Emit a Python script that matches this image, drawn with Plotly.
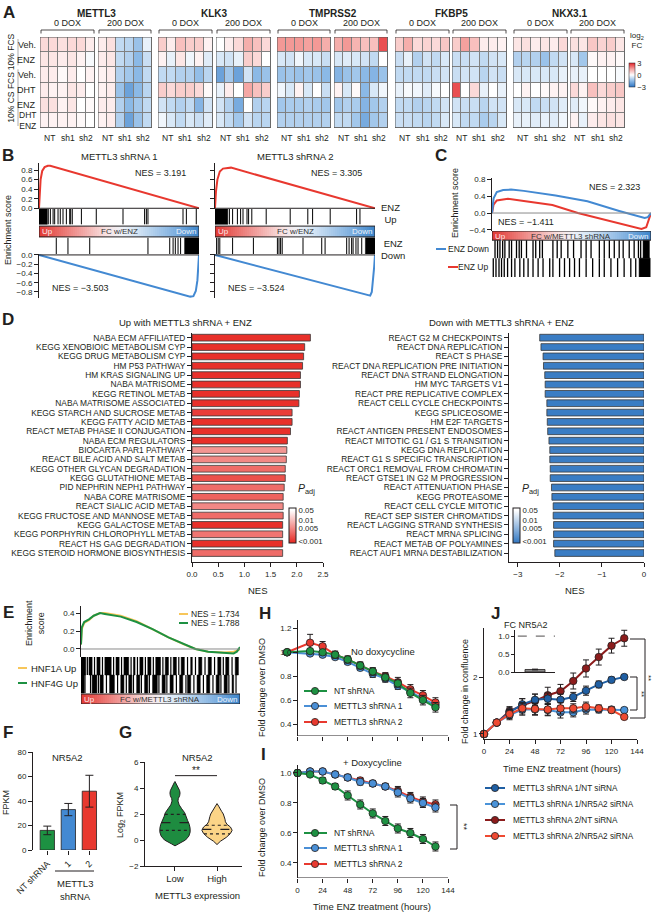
import numpy as np
import plotly.graph_objects as go

W, H = 653, 914
FONT = "Liberation Sans, Arial, Helvetica, sans-serif"
INK = "#231f20"
RED = "#e8382f"
BLUE = "#4389d2"
GREEN = "#1d9142"
YELLOW = "#f7c65a"

# ======================= DATA =======================
# ---- A: log2 FC heatmaps; rows Veh, ENZ | Veh, DHT, ENZ, DHT+ENZ ; cols NT NT sh1 sh1 sh2 sh2
A_genes = ["METTL3", "KLK3", "TMPRSS2", "FKBP5", "NKX3.1"]
A_dox = ["0 DOX", "200 DOX"]
A_rows = ["Veh.", "ENZ", "Veh.", "DHT", "ENZ", "DHT<br>ENZ"]
A_cols = ["NT", "sh1", "sh2"]
A_METTL3_0 = [[0.6, 0.6, 0.5, 0.6, 0.6, 0.3], [0.4, 0.4, 0.3, 0.4, 0.2, -0.1], [0.3, 0.3, 0.1, 0.3, 0.0, 0.2],
              [0.3, 0.2, 0.2, 0.4, 0.3, 0.0], [0.5, 0.5, 0.2, 0.4, 0.0, 0.1], [0.2, 0.2, 0.2, 0.2, 0.1, 0.0]]
A_METTL3_200 = [[0.3, 0.5, -0.8, -0.9, -1.3, -0.3], [0.3, 0.4, -0.8, -1.0, -1.5, -0.7], [0.2, 0.3, -1.0, -1.2, -1.5, -0.8],
                [0.2, 0.3, -1.3, -2.0, -1.5, -0.9], [0.3, 0.3, -1.0, -1.5, -1.2, -0.8], [0.2, 0.3, -1.0, -2.0, -1.3, -0.8]]
A_KLK3_0 = [[0.8, 0.3, 1.0, 0.8, 0.8, 0.2], [0.2, -0.3, 0.4, -0.2, 0.2, -0.4], [-0.8, -0.8, -1.0, -1.0, -1.4, -0.9],
            [0.8, 0.6, 0.8, 0.8, 0.6, 0.1], [-0.6, -0.8, -1.0, -0.8, -1.6, -0.6], [-0.2, -0.5, -0.8, -0.5, -0.7, -0.4]]
A_KLK3_200 = [[0.0, 0.3, 0.6, 1.3, 1.0, 0.6], [-0.5, -0.6, -0.3, 0.8, 0.6, 0.0], [-2.0, -1.2, -2.0, -0.6, -1.5, -1.3],
              [-0.3, 0.3, 0.0, 1.4, 1.0, 0.8], [-0.6, -1.0, -1.8, 0.0, -1.0, -0.9], [-0.5, -0.8, -1.2, -0.6, -0.9, -0.9]]
A_TMPRSS2_0 = [[1.6, 1.6, 1.6, 1.5, 1.6, 1.3], [-0.5, -0.6, -0.2, -0.5, -0.5, -0.7], [-1.3, -1.2, -1.3, -1.2, -1.3, -1.5],
               [-0.2, -0.5, 0.2, -0.5, 0.0, -0.7], [-1.2, -1.1, -1.1, -1.0, -1.1, -1.2], [-1.0, -1.0, -1.0, -1.0, -1.0, -1.0]]
A_TMPRSS2_200 = [[1.3, 1.6, 1.2, 1.0, 1.0, 2.5], [-0.5, -0.4, -0.5, -0.6, -0.8, 0.0], [-1.6, -1.3, -1.2, -1.5, -1.6, -1.3],
                 [0.2, -0.5, 0.1, -1.5, -0.5, -0.2], [-1.2, -1.0, -1.1, -1.6, -1.2, -1.0], [-0.8, -0.8, -1.2, -1.8, -1.2, -1.0]]
A_FKBP5_0 = [[0.8, 1.3, 0.6, 0.7, 0.6, 0.9], [-0.7, -0.3, -1.0, -0.6, -0.8, -0.5], [-0.8, -0.8, -0.8, -0.8, -0.7, -0.6],
             [-0.3, -0.1, -0.2, -0.4, -0.1, 0.0], [-0.8, -0.8, -1.0, -0.9, -0.8, -0.6], [-0.7, -0.7, -0.8, -0.9, -0.8, -0.5]]
A_FKBP5_200 = [[0.8, 1.5, 1.0, 0.3, 0.3, 0.2], [-0.7, -0.7, -0.6, -0.8, -0.6, -0.5], [-0.7, -0.6, -0.6, -0.9, -0.6, -0.7],
               [2.5, 0.0, 0.6, -0.3, 0.0, -0.3], [-0.6, -0.7, -0.7, -0.9, -0.6, -0.6], [-0.5, -0.8, -0.8, -1.1, -0.9, -0.5]]
A_NKX31_0 = [[0.4, 0.5, 0.3, 0.4, 0.3, 0.6], [-1.0, -0.9, -1.0, -1.3, -0.8, -0.6], [-0.5, -0.5, -0.5, -0.5, -0.5, -0.3],
             [0.0, 0.2, 0.0, 0.1, 0.2, 0.2], [-0.5, -0.5, -0.8, -0.7, -0.6, -0.4], [-0.3, -0.3, -0.4, -0.3, -0.4, -0.2]]
A_NKX31_200 = [[0.5, 0.4, 0.9, 0.7, 0.8, 0.4], [-0.5, -1.2, 0.1, 0.2, 0.2, 0.1], [-0.3, -0.3, 0.0, 0.0, 0.0, -0.1],
               [0.6, 0.2, 1.0, 0.6, 0.8, 0.9], [-0.4, -0.2, 0.1, 0.2, 0.3, 0.4], [0.2, -0.3, 0.3, 0.4, 0.5, 0.4]]

# ---- B: GSEA running enrichment scores (rank fraction, ES) and hit positions
B1_up_x = [0, 0.004, 0.01, 0.02, 0.035, 0.055, 0.07, 1.0]
B1_up_y = [0, 0.30, 0.60, 0.78, 0.86, 0.89, 0.89, 0.0]
B1_dn_x = [0, 0.5, 0.92, 0.945, 0.965, 0.98, 0.99, 0.997, 1.0]
B1_dn_y = [0, -0.47, -0.87, -0.90, -0.89, -0.78, -0.55, -0.25, 0]
B2_up_x = [0, 0.006, 0.015, 0.03, 0.05, 0.08, 0.10, 1.0]
B2_up_y = [0, 0.35, 0.60, 0.77, 0.83, 0.85, 0.85, 0.0]
B2_dn_x = [0, 0.5, 0.95, 0.97, 0.98, 0.988, 0.995, 1.0]
B2_dn_y = [0, -0.45, -0.85, -0.88, -0.80, -0.55, -0.25, 0]
B1_up_hits = [0.058, 0.071, 0.088, 0.098, 0.119, 0.133, 0.15, 0.171, 0.192, 0.198, 0.208, 0.265, 0.358, 0.525,
              0.66, 0.671, 0.681, 0.9, 0.921, 0.983]
B1_up_blocks = [[0.0, 0.052]]
B1_dn_hits = [0.108, 0.181, 0.317, 0.681, 0.817, 0.838, 0.852, 0.869, 0.885]
B1_dn_blocks = [[0.91, 1.0]]
B2_up_hits = [0.09, 0.11, 0.14, 0.16, 0.175, 0.2, 0.21, 0.23, 0.32, 0.47, 0.58, 0.61, 0.72, 0.885, 0.906]
B2_up_blocks = [[0.0, 0.08]]
B2_dn_hits = [0.01, 0.02, 0.03, 0.11, 0.24, 0.39, 0.40, 0.41, 0.42, 0.55, 0.667, 0.688, 0.823, 0.838, 0.854,
              0.863, 0.881, 0.894, 0.917]
B2_dn_blocks = [[0.94, 1.0]]
B_nes = ["3.191", "−3.503", "3.305", "−3.524"]

# ---- C
C_dn_x = [0, 0.01, 0.03, 0.07, 0.12, 0.2, 0.4, 0.6, 0.8, 0.9, 0.96, 0.98, 1.0]
C_dn_y = [0, 0.35, 0.50, 0.55, 0.56, 0.53, 0.42, 0.28, 0.05, -0.06, -0.12, -0.10, 0.0]
C_up_x = [0, 0.01, 0.03, 0.07, 0.10, 0.2, 0.38, 0.54, 0.7, 0.8, 0.9, 0.94, 0.97, 1.0]
C_up_y = [0, 0.20, 0.30, 0.33, 0.34, 0.29, 0.19, 0.0, -0.15, -0.24, -0.35, -0.38, -0.34, 0.0]
C_dn_hits = [0.019, 0.035, 0.05, 0.067, 0.081, 0.108, 0.123, 0.154, 0.171, 0.185, 0.217, 0.258, 0.275, 0.3, 0.317,
             0.383, 0.41, 0.435, 0.477, 0.513, 0.56, 0.592, 0.623, 0.675, 0.706, 0.738, 0.769, 0.8, 0.825, 0.863,
             0.894, 0.921, 0.935]
C_dn_blocks = [[0.95, 0.99]]
C_up_hits = [0.008, 0.025, 0.044, 0.06, 0.077, 0.098, 0.123, 0.144, 0.175, 0.2, 0.227, 0.258, 0.29, 0.321, 0.363,
             0.383, 0.425, 0.456, 0.488, 0.519, 0.55, 0.592, 0.633, 0.675, 0.706, 0.748, 0.79, 0.831, 0.873, 0.904]
C_up_blocks = [[0.925, 0.995]]
C_nes = ["2.323", "−1.411"]

# ---- D
D_up_terms = ["NABA ECM AFFILIATED", "KEGG XENOBIOIC METABOLISM CYP", "KEGG DRUG METABOLISM CYP", "HM P53 PATHWAY",
              "HM KRAS SIGNALING UP", "NABA MATRISOME", "KEGG RETINOL METAB", "NABA MATRISOME ASSOCIATED",
              "KEGG STARCH AND SUCROSE METAB", "KEGG FATTY ACID METAB", "REACT METAB PHASE II CONJUGATION",
              "NABA ECM REGULATORS", "BIOCARTA PAR1 PATHWAY", "REACT BILE ACID AND SALT METAB",
              "KEGG OTHER GLYCAN DEGRADATION", "KEGG GLUTATHIONE METAB", "PID NEPHRIN NEPH1 PATHWAY",
              "NABA CORE MATRISOME", "REACT SIALIC ACID METAB", "KEGG FRUCTOSE AND MANNOSE METAB",
              "KEGG GALACTOSE METAB", "KEGG PORPHYRIN CHLOROPHYLL METAB", "REACT HS GAG DEGRADATION",
              "KEGG STEROID HORMONE BIOSYNTHESIS"]
D_up_nes = [2.26, 2.15, 2.13, 2.11, 2.07, 2.07, 2.05, 2.04, 1.91, 1.91, 1.88, 1.82, 1.81, 1.80, 1.78, 1.78, 1.76,
            1.74, 1.74, 1.74, 1.73, 1.73, 1.73, 1.73]
D_up_padj = [0.0005, 0.0005, 0.0005, 0.0005, 0.0005, 0.0005, 0.0005, 0.0005, 0.0013, 0.0005, 0.0008, 0.0005,
             0.006, 0.005, 0.003, 0.0018, 0.003, 0.0025, 0.005, 0.003, 0.0005, 0.0035, 0.0005, 0.003]
D_dn_terms = ["REACT G2 M CHECKPOINTS", "REACT DNA REPLICATION", "REACT S PHASE", "REACT DNA REPLICATION PRE INITIATION",
              "REACT DNA STRAND ELONGATION", "HM MYC TARGETS V1", "REACT PRE REPLICATIVE COMPLEX",
              "REACT CELL CYCLE CHECKPOINTS", "KEGG SPLICEOSOME", "HM E2F TARGETS", "REACT ANTIGEN PRESENT ENDOSOMES",
              "REACT MITOTIC G1 / G1 S TRANSITION", "KEGG DNA REPLICATION", "REACT G1 S SPECIFIC TRANSCRIPTION",
              "REACT ORC1 REMOVAL FROM CHROMATIN", "REACT GTSE1 IN G2 M PROGRESSION", "REACT ATTENUATION PHASE",
              "KEGG PROTEASOME", "REACT CELL CYCLE MITOTIC", "REACT SEP SISTER CHROMATIDS",
              "REACT LAGGING STRAND SYNTHESIS", "REACT MRNA SPLICING", "REACT METAB OF POLYAMINES",
              "REACT AUF1 MRNA DESTABILIZATION"]
D_dn_nes = [-2.48, -2.45, -2.40, -2.39, -2.36, -2.35, -2.35, -2.31, -2.31, -2.30, -2.29, -2.26, -2.24, -2.24,
            -2.23, -2.23, -2.20, -2.19, -2.16, -2.16, -2.15, -2.15, -2.15, -2.12]
D_dn_padj = [0.0005] * 24
D_padj_ticks = [0.05, 0.01, 0.005, 0.001]
D_padj_labels = ["0.05", "0.01", "0.005", "&lt;0.001"]

# ---- E
E_x = [0, 0.005, 0.02, 0.05, 0.08, 0.12, 0.15, 0.25, 0.35, 0.45, 0.55, 0.65, 0.72, 0.8, 0.9, 0.96, 0.98, 1.0]
E_hnf1a_y = [0.05, 0.22, 0.29, 0.32, 0.37, 0.40, 0.40, 0.37, 0.31, 0.22, 0.13, 0.05, 0.0, -0.03, -0.04, -0.03, -0.02, 0.0]
E_hnf4g_y = [0.05, 0.24, 0.30, 0.33, 0.37, 0.40, 0.39, 0.36, 0.30, 0.22, 0.13, 0.05, 0.0, -0.03, -0.04, -0.05, -0.03, 0.02]
E_hnf1a_hits = [0.04, 0.085, 0.135, 0.205, 0.255, 0.315, 0.355, 0.405, 0.455, 0.515, 0.565, 0.615, 0.67, 0.72,
                0.78, 0.84, 0.895, 0.95]
E_hnf1a_blocks = [[0.0, 0.03], [0.05, 0.07], [0.1, 0.12], [0.15, 0.19], [0.22, 0.24], [0.27, 0.3], [0.33, 0.34],
                  [0.37, 0.39], [0.42, 0.44], [0.47, 0.5], [0.53, 0.55], [0.58, 0.6], [0.63, 0.65], [0.69, 0.7],
                  [0.74, 0.76], [0.8, 0.82], [0.86, 0.88], [0.91, 0.93], [0.97, 0.99]]
E_hnf4g_hits = [0.025, 0.06, 0.11, 0.16, 0.23, 0.285, 0.33, 0.38, 0.43, 0.49, 0.54, 0.6, 0.66, 0.71, 0.77, 0.83,
                0.88, 0.93, 0.975]
E_hnf4g_blocks = [[0.0, 0.02], [0.07, 0.1], [0.12, 0.14], [0.18, 0.21], [0.25, 0.27], [0.3, 0.32], [0.35, 0.37],
                  [0.4, 0.42], [0.45, 0.48], [0.51, 0.53], [0.56, 0.58], [0.62, 0.64], [0.67, 0.69], [0.73, 0.75],
                  [0.79, 0.81], [0.85, 0.87], [0.9, 0.92], [0.95, 0.96]]
E_nes = ["1.734", "1.788"]

# ---- F
F_groups = ["NT shRNA", "1", "2"]
F_fpkm = [16, 33, 48]
F_err = [3.5, 5, 13]

# ---- G violin outlines (level, half-width) and quartiles
G_low_levels = [-0.45, -0.3, 0.0, 0.3, 0.6, 0.9, 1.2, 1.5, 1.8, 2.1, 2.4, 2.7, 3.0, 3.2, 3.4, 3.6, 3.8, 4.0, 4.2, 4.4, 4.5]
G_low_width = [0.0, 0.08, 0.25, 0.33, 0.36, 0.36, 0.34, 0.30, 0.26, 0.23, 0.16, 0.10, 0.07, 0.08, 0.11, 0.12, 0.11,
               0.08, 0.05, 0.02, 0.0]
G_high_levels = [-0.35, -0.1, 0.2, 0.5, 0.75, 1.0, 1.2, 1.4, 1.6, 1.8, 2.0, 2.2, 2.4, 2.6, 2.8]
G_high_width = [0.0, 0.08, 0.22, 0.32, 0.36, 0.32, 0.24, 0.20, 0.19, 0.17, 0.15, 0.11, 0.08, 0.04, 0.0]
G_low_quart = [0.74, 1.34, 1.97]
G_high_quart = [0.47, 0.82, 1.13]
G_cats = ["Low", "High"]

# ---- H / I  (hours, fold change over DMSO)
HI_hours = [0, 12, 24, 36, 48, 60, 72, 84, 96, 108, 120, 132]
H_hours = [-10, 12, 24, 36, 48, 60, 72, 84, 96, 108, 120, 132]
H_nt = [1.00, 1.01, 1.00, 0.98, 0.94, 0.89, 0.84, 0.79, 0.74, 0.66, 0.60, 0.54]
H_sh1 = [1.00, 0.99, 0.98, 0.96, 0.92, 0.87, 0.82, 0.78, 0.72, 0.67, 0.61, 0.56]
H_sh2 = [1.00, 1.08, 1.05, 0.98, 0.94, 0.89, 0.84, 0.80, 0.75, 0.69, 0.64, 0.58]
H_nt_err = [0, 0.02, 0.02, 0.02, 0.02, 0.02, 0.03, 0.03, 0.03, 0.04, 0.04, 0.04]
H_sh1_err = [0, 0.01, 0.01, 0.02, 0.02, 0.02, 0.03, 0.03, 0.03, 0.03, 0.03, 0.03]
H_sh2_err = [0, 0.07, 0.04, 0.03, 0.03, 0.03, 0.03, 0.03, 0.04, 0.04, 0.04, 0.04]
I_nt = [1.00, 0.99, 0.95, 0.91, 0.85, 0.79, 0.73, 0.68, 0.63, 0.60, 0.56, 0.51]
I_sh1 = [1.00, 1.01, 1.01, 0.99, 0.97, 0.94, 0.93, 0.91, 0.87, 0.83, 0.80, 0.77]
I_sh2 = [1.00, 1.01, 1.01, 0.99, 0.97, 0.95, 0.93, 0.91, 0.88, 0.84, 0.81, 0.79]
I_nt_err = [0, 0.01, 0.02, 0.02, 0.03, 0.03, 0.03, 0.03, 0.03, 0.03, 0.03, 0.03]
I_sh1_err = [0, 0.01, 0.01, 0.02, 0.02, 0.02, 0.02, 0.02, 0.03, 0.03, 0.03, 0.03]
I_sh2_err = [0, 0.01, 0.01, 0.02, 0.02, 0.02, 0.02, 0.02, 0.03, 0.03, 0.03, 0.03]
HI_names = ["NT shRNA", "METTL3 shRNA 1", "METTL3 shRNA 2"]

# ---- J
J_hours = [0, 12, 24, 36, 48, 60, 72, 84, 96, 108, 120, 132]
J_sh1_nt = [1.0, 1.2, 1.38, 1.52, 1.60, 1.62, 1.60, 1.65, 1.76, 1.87, 1.95, 2.00]
J_sh1_si = [1.0, 1.2, 1.33, 1.43, 1.43, 1.42, 1.38, 1.38, 1.43, 1.43, 1.43, 1.42]
J_sh2_nt = [1.0, 1.2, 1.40, 1.50, 1.58, 1.68, 1.75, 1.93, 2.15, 2.35, 2.55, 2.68]
J_sh2_si = [1.0, 1.2, 1.35, 1.45, 1.44, 1.43, 1.45, 1.45, 1.48, 1.45, 1.42, 1.30]
J_sh1_nt_err = [0, 0.04, 0.08, 0.1, 0.1, 0.1, 0.1, 0.08, 0.08, 0.06, 0.05, 0.04]
J_sh1_si_err = [0, 0.04, 0.08, 0.1, 0.1, 0.1, 0.1, 0.08, 0.08, 0.06, 0.05, 0.04]
J_sh2_nt_err = [0, 0.04, 0.08, 0.12, 0.12, 0.14, 0.12, 0.14, 0.15, 0.14, 0.13, 0.14]
J_sh2_si_err = [0, 0.04, 0.08, 0.1, 0.1, 0.1, 0.1, 0.08, 0.08, 0.06, 0.05, 0.04]
J_names = ["METTL3 shRNA 1/NT siRNA", "METTL3 shRNA 1/NR5A2 siRNA", "METTL3 shRNA 2/NT siRNA",
           "METTL3 shRNA 2/NR5A2 siRNA"]
J_colors = ["#1f5fa3", "#4a93d9", "#8c1c1c", "#ef4a32"]
J_inset_fc = [0.07]
J_inset_err = [0.01]

# ======================= HELPERS =======================
traces, annotations, shapes = [], [], []
layout = dict(width=W, height=H, margin=dict(l=0, r=0, t=0, b=0, autoexpand=False), paper_bgcolor="white",
              plot_bgcolor="rgba(0,0,0,0)", showlegend=False,
              font=dict(family=FONT, size=9, color=INK))
axn = [0]


def px(x):
    return x / W


def py(y):
    return 1 - y / H


def axstyle(**kw):
    d = dict(showline=True, linecolor=INK, linewidth=1, ticks="outside", ticklen=3, tickwidth=1, tickcolor=INK,
             showticklabels=True, tickfont=dict(size=8, family=FONT, color=INK))
    d.update(kw)
    return d


def add_axes(x0, x1, y0, y1, xr, yr, xopt=None, yopt=None):
    axn[0] += 1
    n = axn[0]
    s = "" if n == 1 else str(n)
    base = dict(showgrid=False, zeroline=False, showline=False, ticks="", showticklabels=False, fixedrange=True,
                automargin=False)
    xd = dict(base, domain=[px(x0), px(x1)], range=xr, anchor="y" + s)
    yd = dict(base, domain=[py(y1), py(y0)], range=yr, anchor="x" + s)
    if xopt:
        xd.update(xopt)
    if yopt:
        yd.update(yopt)
    layout["xaxis" + s] = xd
    layout["yaxis" + s] = yd
    return "x" + s, "y" + s


def text(x, y, s, size=9, anchor="center", color=INK, angle=0, bold=False, vanchor="middle"):
    annotations.append(dict(x=px(x), y=py(y), xref="paper", yref="paper", text=("<b>%s</b>" % s) if bold else s,
                            showarrow=False, font=dict(size=size, color=color, family=FONT), xanchor=anchor,
                            yanchor=vanchor, textangle=angle, borderpad=0))


def pline(x0, y0, x1, y1, color=INK, width=1, dash=None):
    shapes.append(dict(type="line", xref="paper", yref="paper", x0=px(x0), y0=py(y0), x1=px(x1), y1=py(y1),
                       line=dict(color=color, width=width, dash=dash)))


def pcircle(cx, cy, r, color):
    shapes.append(dict(type="circle", xref="paper", yref="paper", x0=px(cx - r), x1=px(cx + r), y0=py(cy + r),
                       y1=py(cy - r), fillcolor=color, line=dict(color=INK, width=0.8)))


def barcode(xa, ya, hits, blocks, y0, y1, width=1.0):
    xs, ys = [], []
    for p in hits:
        xs += [p, p, None]
        ys += [y0, y1, None]
    traces.append(go.Scatter(x=xs, y=ys, mode="lines", line=dict(color="black", width=width), xaxis=xa, yaxis=ya,
                             hoverinfo="skip"))
    if blocks:
        bx, by = [], []
        for s, e in blocks:
            bx += [s, e, e, s, s, None]
            by += [y0, y0, y1, y1, y0, None]
        traces.append(go.Scatter(x=bx, y=by, mode="lines", fill="toself", fillcolor="black",
                                 line=dict(color="black", width=0.5), xaxis=xa, yaxis=ya, hoverinfo="skip"))


GRAD_CS = [[0, "#e13a35"], [0.2, "#ee8a87"], [0.42, "#f8e2e2"], [0.52, "#eef2f8"], [0.62, "#d3e4f4"],
           [0.85, "#7fb0e0"], [1, "#3f86cb"]]


def gradient(xa, ya, y0, y1):
    n = 80
    traces.append(go.Heatmap(z=[list(np.linspace(0, 1, n))], x=list(np.linspace(0, 1, n + 1)), y=[y0, y1],
                             colorscale=GRAD_CS, zmin=0, zmax=1, showscale=False, xaxis=xa, yaxis=ya,
                             hoverinfo="skip"))
    shapes.append(dict(type="rect", xref=xa, yref=ya, x0=0, x1=1, y0=y0, y1=y1, line=dict(color=INK, width=1),
                       fillcolor="rgba(0,0,0,0)"))


def curve(xa, ya, x, y, color, width=2):
    traces.append(go.Scatter(x=x, y=y, mode="lines", line=dict(color=color, width=width), xaxis=xa, yaxis=ya,
                             hoverinfo="skip"))


def hline(xa, ya, y, x0=0, x1=1, color=INK, width=1, dash=None):
    shapes.append(dict(type="line", xref=xa, yref=ya, x0=x0, x1=x1, y0=y, y1=y,
                       line=dict(color=color, width=width, dash=dash)))


# ======================= PANEL LABELS =======================
for lab, x, y in [("A", 9, 12), ("B", 8, 155), ("C", 441, 156), ("D", 8, 319), ("E", 8, 612), ("F", 8, 732),
                  ("G", 125, 732), ("H", 265, 613), ("I", 263, 754), ("J", 495, 613)]:
    text(x, y, lab, size=17, bold=True)

# ======================= PANEL A =======================
A_data = [[A_METTL3_0, A_METTL3_200], [A_KLK3_0, A_KLK3_200], [A_TMPRSS2_0, A_TMPRSS2_200],
          [A_FKBP5_0, A_FKBP5_200], [A_NKX31_0, A_NKX31_200]]
A_xpos = [(40, 95), (98, 152), (158, 213), (216, 271), (277, 331), (334, 388), (395, 450), (452, 507),
          (513, 568), (570, 625)]
A_top, A_bot = 37, 128
A_cs = [[0, "#2d74c2"], [0.25, "#8bb9e6"], [0.5, "#ffffff"], [0.75, "#f4a19e"], [1, "#e4262a"]]
first = True
for gi, gene in enumerate(A_genes):
    for di in range(2):
        x0, x1 = A_xpos[gi * 2 + di]
        xa, ya = add_axes(x0, x1, A_top, A_bot, [-0.5, 5.5], [5.5, -0.5])
        traces.append(go.Heatmap(
            z=A_data[gi][di], x=list(range(6)), y=list(range(6)), colorscale=A_cs, zmin=-3, zmax=3,
            xgap=1, ygap=1, showscale=first, xaxis=xa, yaxis=ya, hoverinfo="skip",
            colorbar=dict(x=px(629), xanchor="left", y=py(75), yanchor="middle", len=44, lenmode="pixels",
                          thickness=6, thicknessmode="pixels", tickvals=[-3, 0, 3], ticktext=["−3", "0", "3"],
                          tickfont=dict(size=7.5, family=FONT, color=INK), outlinewidth=0.5, outlinecolor=INK,
                          ticks="", xpad=0)))
        first = False
        shapes.append(dict(type="rect", xref=xa, yref=ya, x0=-0.5, x1=5.5, y0=-0.5, y1=5.5, fillcolor="#808080",
                           line=dict(width=0), layer="below"))
        shapes.append(dict(type="rect", xref=xa, yref=ya, x0=-0.5, x1=5.5, y0=-0.5, y1=5.5,
                           fillcolor="rgba(0,0,0,0)", line=dict(color="#555", width=1)))
        text((x0 + x1) / 2, 23, A_dox[di], 9)
        pline(x0 + 1, 30, x1 - 1, 30, width=0.8)
        pline(x0 + 1, 30, x0 + 1, 33.5, width=0.8)
        pline(x1 - 1, 30, x1 - 1, 33.5, width=0.8)
        for k, lab in enumerate(A_cols):
            text(x0 + (x1 - x0) * (2 * k + 1) / 6, 138, lab, 8.5)
    text((A_xpos[gi * 2][0] + A_xpos[gi * 2 + 1][1]) / 2, 13, gene, 10, bold=True)
rowh = (A_bot - A_top) / 6
for r, lab in enumerate(A_rows):
    text(37, A_top + rowh * (r + 0.5), lab, 9 if r < 5 else 8.5, anchor="right")
text(11, A_top + rowh, "10% FCS", 8.5, angle=-90)
text(11, A_top + rowh * 4, "10% CS FCS", 8.5, angle=-90)
pline(18, A_top + 2, 18, A_top + 2 * rowh - 2, color="#888", width=0.7)
pline(18, A_top + 2 * rowh + 2, 18, A_bot - 2, color="#888", width=0.7)
text(637, 40, "log<sub>2</sub><br>FC", 8)

# ======================= PANEL B =======================
def gsea_B(x0, x1, ux, uy, dx, dy, uh, ub, dh, dbl, labels, nes_up, nes_dn, title):
    tv = [0, 0.2, 0.4, 0.6, 0.8]
    xa, ya = add_axes(x0, x1, 163, 209, [0, 1], [-0.015, 0.947],
                      yopt=axstyle(tickvals=tv, ticktext=["0.0", "0.2", "0.4", "0.6", "0.8"],
                                   showticklabels=labels, ticklen=4))
    hline(xa, ya, 0, width=1)
    curve(xa, ya, ux, uy, RED)
    xb, yb = add_axes(x0, x1, 209, 254, [0, 1], [0, 1])
    barcode(xb, yb, uh, ub, 0.66, 1.0)
    gradient(xb, yb, 0.38, 0.62)
    barcode(xb, yb, dh, dbl, 0.0, 0.36)
    xc, yc = add_axes(x0, x1, 254, 298, [0, 1], [-0.93, 0.02],
                      yopt=axstyle(tickvals=[0, -0.2, -0.4, -0.6, -0.8],
                                   ticktext=["0.0", "−0.2", "−0.4", "−0.6", "−0.8"], showticklabels=labels,
                                   ticklen=4))
    hline(xc, yc, 0, width=1)
    curve(xc, yc, dx, dy, BLUE)
    gy = 209 + 45 * (1 - 0.5)
    text(x0 + 2, gy, "Up", 8, anchor="left", color="#fdeaea")
    text((x0 + x1) / 2, gy, "FC w/ENZ", 8, color="#333")
    text(x1 - 2, gy, "Down", 8, anchor="right", color="#eef4fb")
    text(x0 + 0.76 * (x1 - x0), 173, "NES = " + nes_up, 9)
    text(x0 + 0.26 * (x1 - x0), 288, "NES = " + nes_dn, 9)
    text((x0 + x1) / 2, 157, title, 9.5)


gsea_B(39, 199, B1_up_x, B1_up_y, B1_dn_x, B1_dn_y, B1_up_hits, B1_up_blocks, B1_dn_hits, B1_dn_blocks, True,
       B_nes[0], B_nes[1], "METTL3 shRNA 1")
gsea_B(215, 375, B2_up_x, B2_up_y, B2_dn_x, B2_dn_y, B2_up_hits, B2_up_blocks, B2_dn_hits, B2_dn_blocks, False,
       B_nes[2], B_nes[3], "METTL3 shRNA 2")
text(8, 230, "Enrichment score", 9, angle=-90)
text(380, 213, "ENZ<br>Up", 9.5, anchor="left")
text(380, 249, "ENZ<br>Down", 9.5, anchor="left")

# ======================= PANEL C =======================
xa, ya = add_axes(492, 651, 178, 231, [0, 1], [-0.43, 0.838],
                  yopt=axstyle(tickvals=[-0.4, 0, 0.4, 0.8], ticktext=["−0.4", "0.0", "0.4", "0.8"], ticklen=4))
hline(xa, ya, 0, color="#8a8a8a", width=1)
curve(xa, ya, C_up_x, C_up_y, RED)
curve(xa, ya, C_dn_x, C_dn_y, BLUE)
xb, yb = add_axes(492, 651, 231, 277, [0, 1], [0, 1])
gradient(xb, yb, 0.8, 1.0)
barcode(xb, yb, C_dn_hits, C_dn_blocks, 0.41, 0.8, width=1.3)
barcode(xb, yb, C_up_hits, C_up_blocks, 0.0, 0.41, width=1.3)
text(494, 236, "Up", 8, anchor="left", color="#fdeaea")
text(571, 236, "FC w/METTL3 shRNA", 8, color="#333")
text(649, 236, "Down", 8, anchor="right", color="#eef4fb")
text(614, 187, "NES = " + C_nes[0], 9)
text(526, 222, "NES = " + C_nes[1], 9)
text(455, 203, "Enrichment score", 9, angle=-90)
pline(436, 249, 446, 249, color=BLUE, width=2)
text(490, 249, "ENZ Down", 8.5, anchor="right")
pline(448, 267, 458, 267, color=RED, width=2)
text(490, 267, "ENZ Up", 8.5, anchor="right")

# ======================= PANEL D =======================
CB_POS = [0.93, 0.64, 0.42, 0.04]   # colour-bar positions of the P_adj ticks (0.05 ... 0.001)


def padj_color(vals):
    lt = [float(np.log10(v)) for v in D_padj_ticks][::-1]
    return [float(np.interp(np.log10(v), lt, CB_POS[::-1])) for v in vals]


def d_panel(x0, x1, xr, xt, xtt, terms, nes, padj, cs, cbx, title, title_x, nes_x):
    xa, ya = add_axes(x0, x1, 333, 562, xr, [23.96, -0.5],
                      xopt=axstyle(tickvals=xt, ticktext=xtt, ticklen=4),
                      yopt=axstyle(tickvals=list(range(24)), ticktext=terms, ticklen=4,
                                   tickfont=dict(size=8.4, family=FONT, color=INK)))
    traces.append(go.Bar(
        x=nes, y=list(range(24)), orientation="h", width=0.72, xaxis=xa, yaxis=ya, hoverinfo="skip",
        marker=dict(color=padj_color(padj), colorscale=cs, cmin=0, cmax=1,
                    line=dict(color="#3a3a3a", width=0.8), showscale=True,
                    colorbar=dict(x=px(cbx), xanchor="left", y=py(525.5), yanchor="middle", len=55,
                                  lenmode="pixels", thickness=7, thicknessmode="pixels",
                                  tickvals=CB_POS, ticktext=D_padj_labels, ticks="", xpad=0,
                                  tickfont=dict(size=7.8, family=FONT, color=INK), outlinewidth=1,
                                  outlinecolor=INK))))
    text(title_x, 322, title, 9.5)
    text(nes_x, 590, "NES", 9.5)
    text(cbx + 17, 489, "<i>P</i><sub>adj</sub>", 10.5)


d_panel(192, 323, [0, 2.5], [0, 0.5, 1, 1.5, 2, 2.5], ["0.0", "0.5", "1.0", "1.5", "2.0", "2.5"], D_up_terms,
        D_up_nes, D_up_padj, [[0, "#e8302a"], [0.04, "#e8302a"], [0.93, "#ffffff"], [1, "#ffffff"]], 289,
        "Up with METTL3 shRNA + ENZ", 185, 258)
d_panel(509, 644, [-3.21, 0], [-3, -2, -1, 0], ["−3", "−2", "−1", "0"], D_dn_terms, D_dn_nes, D_dn_padj,
        [[0, "#3a7dc4"], [0.04, "#3a7dc4"], [0.93, "#ffffff"], [1, "#ffffff"]], 513,
        "Down with METTL3 shRNA + ENZ", 502, 575)

# ======================= PANEL E =======================
xa, ya = add_axes(81, 240, 606, 657, [0, 1], [-0.089, 0.478],
                  yopt=axstyle(tickvals=[0, 0.2, 0.4], ticktext=["0.0", "0.2", "0.4"], ticklen=4))
hline(xa, ya, 0, color="#8a8a8a", width=1)
curve(xa, ya, E_x, E_hnf1a_y, YELLOW)
curve(xa, ya, E_x, E_hnf4g_y, GREEN)
xb, yb = add_axes(81, 240, 657, 704, [0, 1], [0, 1])
barcode(xb, yb, E_hnf1a_hits, E_hnf1a_blocks, 0.617, 1.0, width=1.2)
barcode(xb, yb, E_hnf4g_hits, E_hnf4g_blocks, 0.234, 0.617, width=1.2)
gradient(xb, yb, 0.0, 0.213)
text(83, 699, "Up", 8, anchor="left", color="#fdeaea")
text(160, 699, "FC w/METTL3 shRNA", 8, color="#333")
text(238, 699, "Down", 8, anchor="right", color="#eef4fb")
text(35, 623, "Enrichment<br>score", 9, angle=-90)
pline(18, 668, 27, 668, color=YELLOW, width=2)
text(30, 668, "HNF1A Up", 9.5, anchor="left")
pline(18, 683, 27, 683, color=GREEN, width=2)
text(30, 683, "HNF4G Up", 9.5, anchor="left")
pline(179, 614, 188, 614, color=YELLOW, width=2)
text(190, 614, "NES = " + E_nes[0], 8.5, anchor="left")
pline(179, 623, 188, 623, color=GREEN, width=2)
text(190, 623, "NES = " + E_nes[1], 8.5, anchor="left")

# ======================= PANEL F =======================
xa, ya = add_axes(33, 102, 752, 850, [-0.68, 2.6], [0, 80],
                  xopt=dict(showticklabels=True, ticks="outside", ticklen=4, tickcolor=INK, tickvals=[0, 1, 2],
                            ticktext=F_groups, tickangle=-45, tickfont=dict(size=9, family=FONT, color=INK)),
                  yopt=axstyle(tickvals=[0, 20, 40, 60, 80], ticklen=4))
traces.append(go.Bar(x=[0, 1, 2], y=F_fpkm, width=0.68, marker=dict(color=[GREEN, BLUE, RED],
                     line=dict(color=INK, width=0.8)), xaxis=xa, yaxis=ya, hoverinfo="skip",
                     error_y=dict(type="data", array=F_err, color=INK, thickness=1, width=4)))
text(67, 757, "NR5A2", 9.5)
text(6, 803, "FPKM", 9, angle=-90)
pline(55, 871, 94, 871, width=1)
text(75, 883, "METTL3", 9.5)
text(75, 896, "shRNA", 9.5)

# ======================= PANEL G =======================
xa, ya = add_axes(145, 242, 762, 866, [-0.714, 1.595], [-2, 6],
                  xopt=axstyle(tickvals=[0, 1], ticktext=G_cats, ticklen=4,
                               tickfont=dict(size=9.5, family=FONT, color=INK)),
                  yopt=axstyle(tickvals=[-2, 0, 2, 4, 6], ticklen=4))


def violin(center, lv, wd, quart, color):
    xs = [center + w for w in wd] + [center - w for w in wd[::-1]]
    ys = list(lv) + list(lv[::-1])
    traces.append(go.Scatter(x=xs, y=ys, mode="lines", fill="toself", fillcolor=color,
                             line=dict(color=INK, width=1), xaxis=xa, yaxis=ya, hoverinfo="skip"))
    for i, q in enumerate(quart):
        hw = float(np.interp(q, lv, wd))
        traces.append(go.Scatter(x=[center - hw, center + hw], y=[q, q], mode="lines",
                                 line=dict(color=INK, width=1.1, dash="dash" if i == 1 else "dot"),
                                 xaxis=xa, yaxis=ya, hoverinfo="skip"))


violin(0, G_low_levels, G_low_width, G_low_quart, "#1e8c40")
violin(1, G_high_levels, G_high_width, G_high_quart, "#fbd487")
traces.append(go.Scatter(x=[0, 1], y=[4.95, 4.95], mode="lines", line=dict(color=INK, width=1), xaxis=xa,
                         yaxis=ya, hoverinfo="skip"))
text(196, 770, "**", 10)
text(197, 757, "NR5A2", 9.5)
text(197, 895, "METTL3 expression", 9.5)
text(120, 815, "Log<sub>2</sub> FPKM", 9, angle=-90)

# ======================= PANELS H & I =======================
HI_colors = [GREEN, "#4a8fd6", "#e8392f"]


def series(xa, ya, x, y, err, color, width=2):
    traces.append(go.Scatter(x=x, y=y, mode="lines+markers", cliponaxis=False, xaxis=xa, yaxis=ya,
                             hoverinfo="skip", line=dict(color=color, width=width),
                             marker=dict(size=7.5, color=color, line=dict(color=INK, width=0.8)),
                             error_y=dict(type="data", array=err, color=INK, thickness=1, width=3)))


hours_ticks = [0, 24, 48, 72, 96, 120, 144]
xa, ya = add_axes(285, 448, 620, 736, [-12, 144], [0.3, 1.27],
                  xopt=dict(ticks="outside", ticklen=4, tickcolor=INK, tickvals=hours_ticks, showticklabels=False),
                  yopt=axstyle(tickvals=[0.4, 0.6, 0.8, 1.0, 1.2], ticktext=["0.4", "0.6", "0.8", "1.0", "1.2"],
                               anchor="free", position=px(297), ticklen=4))
shapes.append(dict(type="line", xref=xa, yref=ya, x0=0, x1=144, y0=0.3, y1=0.3, line=dict(color=INK, width=1)))
series(xa, ya, H_hours, H_sh1, H_sh1_err, HI_colors[1])
series(xa, ya, H_hours, H_sh2, H_sh2_err, HI_colors[2])
series(xa, ya, H_hours, H_nt, H_nt_err, HI_colors[0])
text(383, 651, "No doxycycline", 9.5)
text(262, 688, "Fold change over DMSO", 9, angle=-90)

xa, ya = add_axes(285, 448, 765, 878, [-12, 144], [0.3, 1.053],
                  xopt=dict(ticks="outside", ticklen=4, tickcolor=INK, tickvals=hours_ticks, showticklabels=True,
                            tickfont=dict(size=8, family=FONT, color=INK)),
                  yopt=axstyle(tickvals=[0.4, 0.6, 0.8, 1.0], ticktext=["0.4", "0.6", "0.8", "1.0"],
                               anchor="free", position=px(297), ticklen=4))
shapes.append(dict(type="line", xref=xa, yref=ya, x0=0, x1=144, y0=0.3, y1=0.3, line=dict(color=INK, width=1)))
series(xa, ya, HI_hours, I_sh2, I_sh2_err, HI_colors[2])
series(xa, ya, HI_hours, I_sh1, I_sh1_err, HI_colors[1])
series(xa, ya, HI_hours, I_nt, I_nt_err, HI_colors[0])
text(372, 762, "+ Doxycycline", 9.5)
text(262, 828, "Fold change over DMSO", 9, angle=-90)
text(372, 906, "Time ENZ treatment (hours)", 9.5)
pline(450, 805, 457, 805)
pline(457, 805, 457, 849)
pline(450, 849, 457, 849)
text(464, 827, "**", 9, angle=90)

for ly, lab, col in zip([691, 706, 722], HI_names, HI_colors):
    pline(304, ly, 327, ly, color=col, width=2)
    pcircle(315, ly, 3.6, col)
    text(333, ly, lab, 8.5, anchor="left")
for ly, lab, col in zip([833, 848, 864], HI_names, HI_colors):
    pline(304, ly, 327, ly, color=col, width=2)
    pcircle(315, ly, 3.6, col)
    text(333, ly, lab, 8.5, anchor="left")

# ======================= PANEL J =======================
xa, ya = add_axes(484, 637, 628, 739, [0, 144], [0.912, 2.86],
                  xopt=axstyle(tickvals=hours_ticks, ticklen=4),
                  yopt=axstyle(tickvals=[1, 2], ticklen=4))
J_series = [J_sh1_nt, J_sh1_si, J_sh2_nt, J_sh2_si]
J_errs = [J_sh1_nt_err, J_sh1_si_err, J_sh2_nt_err, J_sh2_si_err]
for idx in [2, 0, 1, 3]:
    series(xa, ya, J_hours, J_series[idx], J_errs[idx], J_colors[idx])
text(465, 692, "Fold change in confluence", 9, angle=-90)
text(562, 768, "Time ENZ treatment (hours)", 9.5)
# brackets
pline(630, 677, 637, 677)
pline(637, 677, 637, 710)
pline(630, 710, 637, 710)
text(642, 694, "**", 8, angle=90)
pline(630, 639, 645, 639)
pline(645, 639, 645, 718)
pline(630, 718, 645, 718)
text(649, 678, "**", 8, angle=90)
for ly, lab, col in zip([788, 804, 820, 836], J_names, J_colors):
    pline(485, ly, 505, ly, color=col, width=2)
    pcircle(495, ly, 3.6, col)
    text(512, ly, lab, 8.2, anchor="left")

# inset
xi, yi = add_axes(515, 555, 630, 672, [0, 1], [0, 1.17],
                  xopt=dict(showline=True, linecolor=INK, linewidth=1),
                  yopt=axstyle(tickvals=[0, 0.5, 1.0], ticktext=["0.0", "0.5", "1.0"], ticklen=3))
hline(xi, yi, 1.0, x0=0.07, x1=1.0, width=0.8, dash="dash")
traces.append(go.Bar(x=[0.5], y=J_inset_fc, width=0.5, marker=dict(color="#8c8c8c", line=dict(color=INK, width=0.8)),
                     error_y=dict(type="data", array=J_inset_err, color=INK, thickness=1, width=3),
                     xaxis=xi, yaxis=yi, hoverinfo="skip"))
text(503, 625, "FC NR5A2", 9, anchor="left")

layout["annotations"] = annotations
layout["shapes"] = shapes
fig = go.Figure(data=traces, layout=layout)
fig.write_html("out.html", include_plotlyjs=True, config={"displayModeBar": False},
               post_script="document.body.style.margin='0px';document.body.style.padding='0px';"
                           "document.documentElement.style.overflow='hidden';")
